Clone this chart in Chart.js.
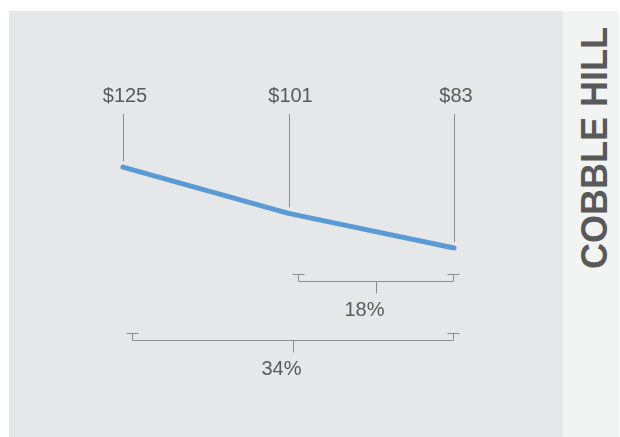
<!DOCTYPE html>
<html>
<head>
<meta charset="utf-8">
<script src="https://cdn.jsdelivr.net/npm/chart.js@4.4.1/dist/chart.umd.min.js"></script>
<style>
  html, body { margin: 0; padding: 0; background: #ffffff; }
  #wrap { position: relative; width: 620px; height: 437px; overflow: hidden; }
  #panel { position: absolute; left: 9px; top: 11px; width: 554px; height: 426px; background: #e6e7e8; }
  #side { position: absolute; left: 563px; top: 11px; width: 56px; height: 426px; background: #f2f3f3; }
  #title {
    position: absolute; left: 595px; top: 148px;
    transform: translate(-50%, -50%) rotate(-90deg);
    font: bold 36px "Liberation Sans", Arial, sans-serif;
    color: #595959; white-space: nowrap; line-height: 1;
  }
  #chart { position: absolute; left: 0; top: 0; display: block; }
</style>
</head>
<body>
<div id="wrap">
  <div id="panel"></div>
  <div id="side"></div>
  <div id="title">COBBLE HILL</div>
  <canvas id="chart" width="620" height="437"></canvas>
</div>
<script>
// data
var categories = ['Then', 'Mid', 'Now'];
var prices = [125, 101, 83];
var priceLabels = ['$125', '$101', '$83'];

// brackets: from index, to index, label
var bracketFrom = [1, 0];
var bracketTo = [2, 2];
var bracketLabels = ['18%', '34%'];
var bracketY = [281, 340];

var textColor = '#5a5a5a';
var ruleColor = '#8c8c8c';

document.addEventListener('DOMContentLoaded', function() {
    var annotations = {
        id: 'annotations',
        beforeDatasetsDraw: function(chart) {
            var ctx = chart.ctx;
            var meta = chart.getDatasetMeta(0);
            ctx.save();
            ctx.strokeStyle = ruleColor;
            ctx.lineWidth = 1;
            meta.data.forEach(function(pt) {
                var x = Math.round(pt.x) + 0.5;
                ctx.beginPath();
                ctx.moveTo(x, 114);
                ctx.lineTo(x, pt.y - 6);
                ctx.stroke();
            });
            ctx.restore();
        },
        afterDatasetsDraw: function(chart) {
            var ctx = chart.ctx;
            var meta = chart.getDatasetMeta(0);
            ctx.save();
            ctx.fillStyle = textColor;
            ctx.font = '20px "Liberation Sans", Arial, sans-serif';
            ctx.textAlign = 'center';
            ctx.textBaseline = 'middle';
            meta.data.forEach(function(pt, i) {
                ctx.fillText(priceLabels[i], pt.x + 2, 96);
            });

            ctx.strokeStyle = ruleColor;
            ctx.lineWidth = 1;
            for (var b = 0; b < bracketLabels.length; b++) {
                var x1 = Math.round(meta.data[bracketFrom[b]].x + 9) + 0.5;
                var x2 = Math.round(meta.data[bracketTo[b]].x - 1) + 0.5;
                var y = bracketY[b] + 0.5;
                var xm = Math.round((x1 + x2) / 2) + 0.5;
                ctx.beginPath();
                // left cap
                ctx.moveTo(x1 - 6, y - 7); ctx.lineTo(x1 + 6, y - 7);
                ctx.moveTo(x1, y - 7); ctx.lineTo(x1, y);
                // bar
                ctx.lineTo(x2, y);
                // right cap
                ctx.lineTo(x2, y - 7);
                ctx.moveTo(x2 - 6, y - 7); ctx.lineTo(x2 + 6, y - 7);
                // centre stem
                ctx.moveTo(xm, y); ctx.lineTo(xm, y + 12);
                ctx.stroke();
                ctx.fillText(bracketLabels[b], xm - 12, y + 29);
            }
            ctx.restore();
        }
    };

    new Chart(document.getElementById('chart'), {
        type: 'line',
        data: {
            labels: categories,
            datasets: [{
                data: prices,
                borderColor: '#5b9bd5',
                borderWidth: 5,
                borderCapStyle: 'round',
                borderJoinStyle: 'round',
                pointRadius: 0,
                tension: 0,
                fill: false,
                clip: false
            }]
        },
        options: {
            responsive: false,
            animation: false,
            layout: { padding: { top: 11, bottom: 29, left: 123, right: 166 } },
            plugins: { legend: { display: false }, tooltip: { enabled: false } },
            scales: {
                x: { display: false, offset: false },
                y: { display: false, min: 0, max: 206 }
            }
        },
        plugins: [annotations]
    });
});
</script>
</body>
</html>
